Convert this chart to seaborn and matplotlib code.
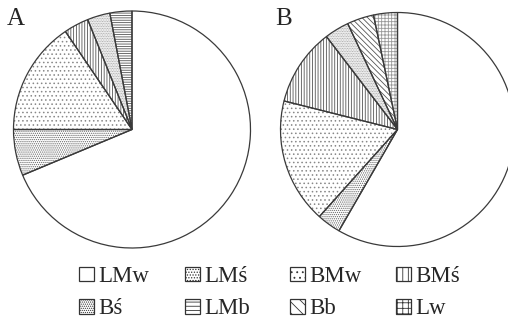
import matplotlib
matplotlib.use("Agg")
import matplotlib.pyplot as plt
from matplotlib.patches import Patch
import seaborn as sns

# ---- data ----
categories = ["LMw", "LMś", "BMw", "BMś", "Bś", "LMb", "Bb", "Lw"]
share_a = [68.7, 6.3, 15.5, 3.4, 3.1, 3.0, 0.0, 0.0]
share_b = [58.4, 3.3, 17.3, 10.7, 3.4, 0.0, 3.7, 3.3]
panel_labels = ["A", "B"]

# ---- style ----
hatches = {
    "LMw": "",
    "LMś": "........",
    "BMw": "....",
    "BMś": "||||||",
    "Bś": "..........",
    "LMb": "-------",
    "Bb": "\\\\\\\\\\\\",
    "Lw": "+++++",
}
legend_hatches = {
    "LMw": "",
    "LMś": "......",
    "BMw": "...",
    "BMś": "|||",
    "Bś": "........",
    "LMb": "----",
    "Bb": "\\\\\\",
    "Lw": "+++",
}
hatch_colors = {
    "LMw": "#777777",
    "LMś": "#666666",
    "BMw": "#888888",
    "BMś": "#555555",
    "Bś": "#999999",
    "LMb": "#555555",
    "Bb": "#555555",
    "Lw": "#999999",
}

sns.set_style("white")
plt.rcParams["font.family"] = ["Liberation Serif", "DejaVu Serif"]
plt.rcParams["hatch.linewidth"] = 0.6

W, H = 508, 322
fig = plt.figure(figsize=(W / 100, H / 100), dpi=100)


def axes_at(cx, cy, r):
    return fig.add_axes([(cx - r) / W, 1 - (cy + r) / H, 2 * r / W, 2 * r / H])


panels = [(share_a, (132, 129.5, 118.5), (7, 25)),
          (share_b, (397.5, 129.5, 117), (275, 25))]

for (shares, (cx, cy, r), (lx, ly)), lab in zip(panels, panel_labels):
    ax = axes_at(cx, cy, r)
    cats = [c for c, v in zip(categories, shares) if v > 0]
    vals = [v for v in shares if v > 0]
    wedges, _ = ax.pie(vals, startangle=90, counterclock=False,
                       colors=["white"] * len(vals),
                       wedgeprops=dict(linewidth=0))
    for w, c in zip(wedges, cats):
        w.set_hatch(hatches[c])
        w.set_edgecolor(hatch_colors[c])
        w.set_linewidth(0)
    ax.pie(vals, startangle=90, counterclock=False,
           wedgeprops=dict(fill=False, edgecolor="#3a3a3a", linewidth=0.9))
    ax.set_xlim(-1, 1)
    ax.set_ylim(-1, 1)
    ax.set_aspect("equal")
    ax.axis("off")
    fig.text(lx / W, 1 - ly / H, lab, fontsize=18, ha="left", va="baseline")

# ---- legend: 4 columns x 2 rows ----
col_x = [79, 185, 290, 396]
fs = 16.5
fs_px = fs * 100 / 72
for i, x in enumerate(col_x):
    cols = [categories[i], categories[i + 4]]
    handles = [Patch(facecolor="white", edgecolor="#333333",
                     hatch=legend_hatches[c], linewidth=0.9) for c in cols]
    fig.legend(handles, cols, loc="center left",
               bbox_to_anchor=(x / W, 1 - 292.75 / H),
               frameon=False, fontsize=fs, borderpad=0, borderaxespad=0,
               handlelength=15 / fs_px, handleheight=14 / fs_px,
               handletextpad=0.2, labelspacing=0.5)

fig.savefig("out.png", dpi=100)
